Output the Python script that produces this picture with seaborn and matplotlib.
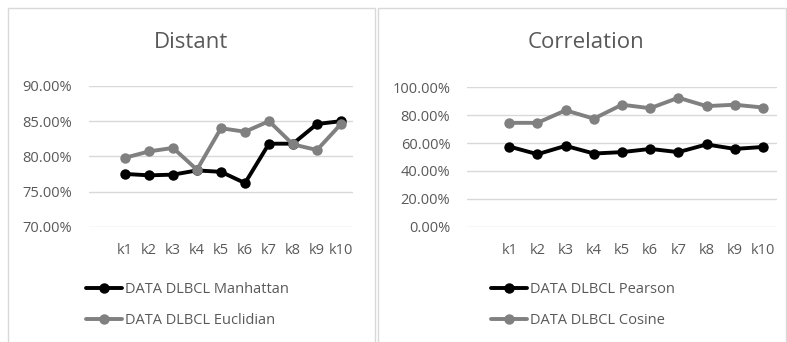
import matplotlib
matplotlib.use("Agg")
import matplotlib.pyplot as plt
from matplotlib.patches import Rectangle
from matplotlib.ticker import FuncFormatter, MultipleLocator
import seaborn as sns
import pandas as pd

categories = ["k1", "k2", "k3", "k4", "k5", "k6", "k7", "k8", "k9", "k10"]

manhattan = [77.5, 77.3, 77.4, 78.0, 77.8, 76.2, 81.8, 81.8, 84.6, 85.0]
euclidian = [79.8, 80.7, 81.2, 78.1, 84.0, 83.5, 85.0, 81.7, 80.9, 84.6]

pearson = [57.5, 52.0, 58.0, 52.5, 53.5, 55.8, 53.5, 59.0, 55.8, 57.2]
cosine = [74.5, 74.5, 83.5, 77.5, 87.5, 85.0, 92.5, 86.5, 87.5, 85.5]

labels_left = ["DATA DLBCL Manhattan", "DATA DLBCL Euclidian"]
labels_right = ["DATA DLBCL Pearson", "DATA DLBCL Cosine"]

sns.set_theme(style="white")
plt.rcParams["font.family"] = ["Open Sans", "DejaVu Sans"]

TXT = "#595959"
GRID = "#d9d9d9"
BLACK = "#000000"
GRAY = "#808080"

W, H = 787, 342
fig = plt.figure(figsize=(W / 100, H / 100), dpi=100)
fig.patch.set_facecolor("white")


def px_axes(x0, y0, x1, y1):
    return fig.add_axes([x0 / W, 1 - y1 / H, (x1 - x0) / W, (y1 - y0) / H])


# panel frames
for (x0, x1) in [(8, 375), (377.5, 786)]:
    fig.add_artist(Rectangle((x0 / W, -0.05), (x1 - x0) / W, 1.05 - 8 / H,
                             transform=fig.transFigure, fill=False,
                             edgecolor="#d9d9d9", linewidth=1.0))


def panel(ax, s1, s2, names, ylim, step, title, title_x, leg_x):
    df = pd.DataFrame({
        "k": categories * 2,
        "value": s1 + s2,
        "series": [names[0]] * len(categories) + [names[1]] * len(categories),
    })
    sns.lineplot(data=df, x="k", y="value", hue="series",
                 palette=[BLACK, GRAY], marker="o", markersize=7.5,
                 markeredgewidth=0, linewidth=2.8, ax=ax, legend=True,
                 sort=False)
    ax.set_xlim(-1.5, 9.5)
    ax.set_ylim(*ylim)
    ax.yaxis.set_major_locator(MultipleLocator(step))
    ax.yaxis.set_major_formatter(FuncFormatter(lambda v, p: f"{v:.2f}%"))
    ax.grid(axis="y", color=GRID, linewidth=1.0)
    ax.grid(axis="x", visible=False)
    ax.set_axisbelow(True)
    for s in ax.spines.values():
        s.set_visible(False)
    ax.tick_params(axis="y", length=0, pad=12, labelsize=10.5, labelcolor=TXT)
    ax.tick_params(axis="x", length=0, pad=12, labelsize=10.5, labelcolor=TXT)
    ax.set_xlabel("")
    ax.set_ylabel("")
    ax.patch.set_alpha(0)
    handles, labs = ax.get_legend_handles_labels()
    ax.get_legend().remove()
    fig.legend(handles, labs, loc="center left",
               bbox_to_anchor=(leg_x / W, 1 - 305 / H), frameon=False,
               fontsize=10.5, labelcolor=TXT, handlelength=2.5,
               handletextpad=0.2, labelspacing=1.1, borderaxespad=0,
               borderpad=0)
    fig.text(title_x / W, 1 - 42 / H, title, ha="center", va="center",
             fontsize=16, color=TXT)


ax1 = px_axes(89, 86, 353, 226.7)
panel(ax1, manhattan, euclidian, labels_left, (70, 90), 5, "Distant", 191.5, 86)

ax2 = px_axes(467, 87.3, 777, 226.7)
panel(ax2, pearson, cosine, labels_right, (0, 100), 20, "Correlation", 586, 491)

fig.savefig("out.png", dpi=100, facecolor="white")
